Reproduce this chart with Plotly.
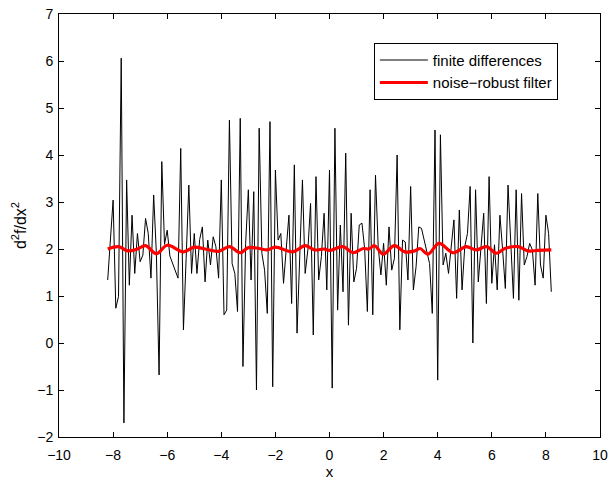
import plotly.graph_objects as go

# finite-difference second derivative samples (x from -8.2 to 8.2, step 0.1)
x_start = -8.2
x_step = 0.1
fd_values = [
    1.34, 2.2, 3.04, 0.74, 0.99, 6.06, -1.7, 3.47, 1.23, 2.72,
    1.48, 2.33, 1.73, 1.87, 2.65, 2.33, 1.38, 3.15, 1.9, -0.68,
    3.86, 2.1, 2.4, 1.85, 1.7, 1.55, 1.38, 4.14, 0.28, 1.8,
    3.36, 1.48, 2.33, 1.48, 2.2, 2.47, 1.30, 2.19, 1.66, 2.26,
    2.05, 1.38, 3.47, 0.60, 0.70, 4.74, 1.69, 1.48, 0.67, 4.78,
    -0.50, 2.12, 3.26, 1.34, 3.22, -1.0, 4.57, 1.91, 1.55, 0.63,
    4.71, -0.93, 3.68, 2.19, 2.33, 1.27, 1.91, 2.72, 0.84, 3.79,
    0.21, 1.94, 3.47, 1.48, 1.98, 2.97, 0.17, 3.54, 1.34, 1.84,
    2.76, 1.13, 3.68, -0.96, 4.57, 0.70, 2.51, 1.09, 4.04, 0.38,
    2.76, 1.30, 1.59, 2.51, 2.55, 2.0, 0.67, 3.26, 0.60, 3.57,
    2.05, 1.45, 2.12, 1.23, 2.47, 1.55, 1.8, 4.0, 0.28, 2.19,
    2.15, 1.34, 3.33, 1.13, 1.62, 2.47, 2.44, 2.19, 1.91, 1.69,
    0.63, 4.53, -0.79, 4.43, 1.66, 1.91, 1.48, 2.05, 2.62, 0.95,
    2.83, 1.13, 2.05, 2.33, 3.33, 0.0, 3.26, 1.30, 2.05, 2.76,
    0.84, 3.54, 1.27, 2.09, 1.13, 2.72, 1.98, 1.16, 3.36, 2.12,
    0.95, 3.26, 0.91, 3.18, 1.66, 1.84, 2.12, 1.98, 1.23, 3.18,
    1.66, 1.38, 2.72, 2.33, 1.09,
]
fd_x = [round(x_start + x_step * i, 1) for i in range(len(fd_values))]

# noise-robust filter output
filt_x = [-8.2, -7.8, -7.45, -7.1, -6.8, -6.4, -6.0, -5.4, -5.0, -4.6,
          -4.1, -3.7, -3.3, -3.0, -2.6, -2.3, -2.0, -1.35, -0.9, -0.55,
          -0.2, 0.0, 0.5, 0.87, 1.25, 1.45, 1.67, 1.98, 2.4, 2.78,
          3.15, 3.35, 3.64, 4.05, 4.57, 5.05, 5.43, 5.8, 6.17, 6.48,
          6.97, 7.34, 7.7, 8.2]
filt_y = [2.0, 2.05, 1.96, 2.0, 2.07, 1.9, 2.08, 1.94, 2.04, 2.0,
          1.95, 2.05, 1.92, 2.03, 2.01, 1.98, 2.04, 1.94, 2.07, 1.98,
          2.0, 1.97, 2.05, 1.92, 2.01, 2.0, 2.07, 1.89, 2.07, 1.94,
          1.96, 2.01, 1.89, 2.12, 1.92, 2.05, 1.98, 2.05, 1.91, 2.01,
          2.05, 1.96, 1.97, 1.98]

x_ticks = [-10, -8, -6, -4, -2, 0, 2, 4, 6, 8, 10]
x_ticktext = ["\u221210", "\u22128", "\u22126", "\u22124", "\u22122", "0", "2", "4", "6", "8", "10"]
y_ticks = [-2, -1, 0, 1, 2, 3, 4, 5, 6, 7]
y_ticktext = ["\u22122", "\u22121", "0", "1", "2", "3", "4", "5", "6", "7"]

font_family = "Liberation Sans, Arial, Helvetica, sans-serif"

fig = go.Figure()
fig.add_trace(go.Scatter(x=fd_x, y=fd_values, mode="lines", name="finite differences",
                         line=dict(color="black", width=1)))
fig.add_trace(go.Scatter(x=filt_x, y=filt_y, mode="lines", name="noise\u2212robust filter",
                         line=dict(color="red", width=3.2, shape="spline", smoothing=1.0)))

axis_common = dict(showline=True, linecolor="black", linewidth=1, mirror="ticks",
                   ticks="inside", ticklen=5, tickcolor="black", showgrid=False,
                   zeroline=False, automargin=False,
                   tickfont=dict(family=font_family, size=14, color="black"))

fig.update_layout(
    width=612, height=480,
    margin=dict(l=59, r=12, t=14, b=43),
    paper_bgcolor="white", plot_bgcolor="white",
    font=dict(family=font_family, size=14, color="black"),
    xaxis=dict(range=[-10, 10], tickvals=x_ticks, ticktext=x_ticktext,
               ticklabelstandoff=5,
               title=dict(text="x", font=dict(size=15), standoff=5), **axis_common),
    yaxis=dict(range=[-2, 7], tickvals=y_ticks, ticktext=y_ticktext,
               ticklabelstandoff=2,
               title=dict(text="d<sup>2</sup>f/dx<sup>2</sup>", font=dict(size=16), standoff=6),
               **axis_common),
    legend=dict(x=0.582, y=0.932, xanchor="left", yanchor="top",
                bordercolor="black", borderwidth=1, bgcolor="white",
                font=dict(family=font_family, size=15, color="black"),
                itemwidth=48, tracegroupgap=4),
    showlegend=True,
)

fig.write_html("out.html")
